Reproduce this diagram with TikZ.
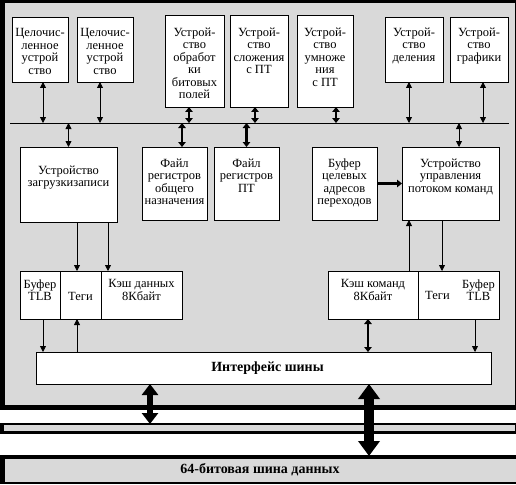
\documentclass[tikz,border=0pt]{standalone}
\usepackage{fontspec}
\setmainfont{Liberation Serif}
\usetikzlibrary{arrows.meta}
\definecolor{panelgray}{RGB}{217,217,217}
\begin{document}
\begin{tikzpicture}[x=1pt,y=-1pt,
  box/.style={draw=black, fill=white, line width=0.8pt, anchor=north west, inner sep=0pt, outer sep=0pt},
  lbl/.style={align=center, inner sep=0pt, font=\fontsize{12.5}{12.5}\selectfont, anchor=north},
  biarrow/.style={line width=0.8pt, {Triangle[length=6pt,width=6pt]}-{Triangle[length=6pt,width=6pt]}},
  onearrow/.style={line width=0.8pt, -{Triangle[length=6pt,width=6pt]}},
  thickbi/.style={line width=2.4pt, {Triangle[length=5pt,width=7.5pt]}-{Triangle[length=5pt,width=7.5pt]}},
  thickone/.style={line width=2.4pt, -{Triangle[length=5pt,width=7.5pt]}},
  bigA/.style={line width=6pt, {Triangle[length=11pt,width=16pt]}-{Triangle[length=11pt,width=16pt]}},
  bigB/.style={line width=10pt, {Triangle[length=15pt,width=21pt]}-{Triangle[length=15pt,width=21pt]}},
  barnode/.style={inner sep=0pt, outer sep=0pt, anchor=north west}
]
\useasboundingbox (0,0) rectangle (516,484);
% main panel
\fill[panelgray] (0,0) rectangle (516,410);
\fill[black] (0,0) rectangle (516,3);
\fill[black] (0,0) rectangle (5,410);
\fill[black] (0,405) rectangle (516,410);
\fill[black] (514.5,0) rectangle (516,410);
% middle bar
\fill[panelgray] (0,423) rectangle (516,434);
\fill[black] (0,423) rectangle (516,425);
\fill[black] (0,431) rectangle (516,434);
\fill[black] (0,423) rectangle (4,434);
\fill[black] (514.5,423) rectangle (516,434);
\node[barnode, minimum width=510pt, minimum height=6pt] (midbar) at (4,425) {};
% data bus
\fill[panelgray] (0,455) rectangle (516,484);
\fill[black] (0,455) rectangle (516,459);
\fill[black] (0,455) rectangle (5,484);
\fill[black] (0,482) rectangle (516,484);
\node[barnode, minimum width=511pt, minimum height=23pt] (bus) at (5,459) {};
\node[font=\bfseries\fontsize{14}{16}\selectfont, inner sep=0pt] (bustext) at (260,470) {64-битовая шина данных};

% internal bus line
\coordinate (busL) at (10,123);
\coordinate (busR) at (509,123);
\draw[line width=0.8pt] (busL) -- (busR);

% top units
\node[box, minimum width=56pt, minimum height=65pt] (int1) at (12,17) {};
\node[lbl] (int1t) at ([yshift=-11.5pt]int1.north) {Целочис-\\ленное\\устрой\\ство};
\node[box, minimum width=56pt, minimum height=65pt] (int2) at (77,17) {};
\node[lbl] (int2t) at ([yshift=-11.5pt]int2.north) {Целочис-\\ленное\\устрой\\ство};
\node[box, minimum width=59pt, minimum height=92pt] (bit) at (165,15) {};
\node[lbl] (bitt) at ([yshift=-12.5pt]bit.north) {Устрой-\\ство\\обработ\\ки\\битовых\\полей};
\node[box, minimum width=58pt, minimum height=92pt] (add) at (230,15) {};
\node[lbl] (addt) at ([yshift=-12.5pt]add.north) {Устрой-\\ство\\сложения\\с ПТ};
\node[box, minimum width=56pt, minimum height=92pt] (mul) at (297,15) {};
\node[lbl] (mult) at ([yshift=-12.5pt]mul.north) {Устрой-\\ство\\умноже\\ния\\с ПТ};
\node[box, minimum width=58pt, minimum height=65pt] (div) at (385,17) {};
\node[lbl] (divt) at ([yshift=-10.5pt]div.north) {Устрой-\\ство\\деления};
\node[box, minimum width=58pt, minimum height=65pt] (gfx) at (450,17) {};
\node[lbl] (gfxt) at ([yshift=-10.5pt]gfx.north) {Устрой-\\ство\\графики};

% middle units
\node[box, minimum width=97pt, minimum height=75pt] (ls) at (20,147) {};
\node[lbl] (lst) at ([yshift=-18.5pt]ls.north) {Устройство\\загрузкизаписи};
\node[box, minimum width=65pt, minimum height=73pt] (gpr) at (142,147) {};
\node[lbl] (gprt) at ([yshift=-11.5pt]gpr.north) {Файл\\регистров\\общего\\назначения};
\node[box, minimum width=65pt, minimum height=73pt] (fpr) at (214,147) {};
\node[lbl] (fprt) at ([yshift=-11.5pt]fpr.north) {Файл\\регистров\\ПТ};
\node[box, minimum width=65pt, minimum height=73pt] (btb) at (312,147) {};
\node[lbl] (btbt) at ([yshift=-11.5pt]btb.north) {Буфер\\целевых\\адресов\\переходов};
\node[box, minimum width=97pt, minimum height=73pt] (ctrl) at (402,147) {};
\node[lbl] (ctrlt) at ([yshift=-11.5pt]ctrl.north) {Устройство\\управления\\потоком команд};

% caches
\node[box, minimum width=40pt, minimum height=48pt] (dtlb) at (20,271) {};
\node[lbl] (dtlbt) at ([yshift=-8.5pt]dtlb.north) {Буфер\\TLB};
\node[box, minimum width=41pt, minimum height=48pt] (dtags) at (60,271) {};
\node[lbl, anchor=center] (dtagst) at ([yshift=-1pt]dtags.center) {Теги};
\node[box, minimum width=81pt, minimum height=48pt] (dcache) at (101,271) {};
\node[lbl] (dcachet) at ([yshift=-8.5pt]dcache.north) {Кэш данных\\8Кбайт};
\node[box, minimum width=90pt, minimum height=48pt] (icache) at (328,271) {};
\node[lbl] (icachet) at ([yshift=-8.5pt]icache.north) {Кэш команд\\8Кбайт};
\node[box, minimum width=81pt, minimum height=48pt] (itt) at (418,271) {};
\node[lbl, anchor=center] (itagst) at ([xshift=-21pt]itt.center) {Теги};
\node[lbl] (itlbt) at ([xshift=20pt,yshift=-8.5pt]itt.north) {Буфер\\TLB};

% bus interface
\node[box, minimum width=455pt, minimum height=32pt] (iface) at (36,352) {};
\node[font=\bfseries\fontsize{14}{16}\selectfont, inner sep=0pt] (ifacet) at ([xshift=4pt]iface.center) {Интерфейс шины};

% connectors: top units <-> bus
\draw[biarrow] ([xshift=3pt]int1.south) -- ([xshift=3pt]int1.south |- busL);
\draw[biarrow] ([xshift=-5pt]int2.south) -- ([xshift=-5pt]int2.south |- busL);
\draw[thickbi] ([xshift=-5.5pt]bit.south) -- ([xshift=-5.5pt]bit.south |- busL);
\draw[thickbi] ([xshift=-4pt]add.south) -- ([xshift=-4pt]add.south |- busL);
\draw[thickbi] ([xshift=11pt]mul.south) -- ([xshift=11pt]mul.south |- busL);
\draw[biarrow] ([xshift=-5pt]div.south) -- ([xshift=-5pt]div.south |- busL);
\draw[biarrow] ([xshift=4pt]gfx.south) -- ([xshift=4pt]gfx.south |- busL);

% bus <-> middle units
\draw[biarrow] (ls.north |- busL) -- (ls.north);
\draw[thickbi] ([xshift=7.5pt]gpr.north |- busL) -- ([xshift=7.5pt]gpr.north);
\draw[thickbi] (fpr.north |- busL) -- (fpr.north);
\draw[biarrow] ([xshift=8.5pt]ctrl.north |- busL) -- ([xshift=8.5pt]ctrl.north);
\draw[thickone] (btb.east) -- (btb.east -| ctrl.west);

% middle units -> caches
\draw[onearrow] ([xshift=8.5pt]ls.south) -- ([xshift=8.5pt]ls.south |- dtags.north);
\draw[onearrow] ([xshift=39.5pt]ls.south) -- ([xshift=39.5pt]ls.south |- dcache.north);
\draw[onearrow] ([xshift=-8.5pt]ctrl.south) -- ([xshift=-8.5pt]ctrl.south |- itt.north);
\draw[onearrow] ([xshift=36pt]icache.north) -- ([xshift=36pt]icache.north |- ctrl.south);

% caches <-> interface
\draw[onearrow] ([xshift=3pt]dtlb.south) -- ([xshift=3pt]dtlb.south |- iface.north);
\draw[onearrow] ([xshift=-3.5pt]dtags.south |- iface.north) -- ([xshift=-3.5pt]dtags.south);
\draw[thickbi] ([xshift=-5pt]icache.south) -- ([xshift=-5pt]icache.south |- iface.north);
\draw[onearrow] ([xshift=16.5pt]itt.south) -- ([xshift=16.5pt]itt.south |- iface.north);

% interface <-> external buses
\draw[bigA] ([xshift=-113.5pt]iface.south) -- ([xshift=-113.5pt,yshift=1pt]iface.south |- midbar.north);
\draw[bigB] ([xshift=105.5pt]iface.south) -- ([xshift=105.5pt,yshift=3pt]iface.south |- bus.north);
\end{tikzpicture}
\end{document}
